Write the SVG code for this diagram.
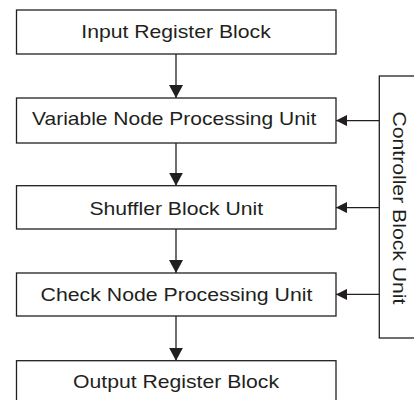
<svg xmlns="http://www.w3.org/2000/svg" width="414" height="400" viewBox="0 0 414 400">
  <style>
    .box { fill: #ffffff; stroke: #231f20; stroke-width: 1.3; }
    .wire { fill: none; stroke: #231f20; stroke-width: 1.3; }
    .lbl { font-family: "Liberation Sans", Arial, sans-serif; font-size: 19px; fill: #231f20; text-anchor: middle; }
  </style>
  <defs>
    <marker id="headDown" markerUnits="userSpaceOnUse" viewBox="0 0 14 13" refX="7" refY="13" markerWidth="14" markerHeight="13" orient="0">
      <path d="M0,0 L14,0 L7,13 Z" fill="#231f20"/>
    </marker>
    <marker id="headLeft" markerUnits="userSpaceOnUse" viewBox="0 0 11 11" refX="0" refY="5.5" markerWidth="11" markerHeight="11" orient="0">
      <path d="M0,5.5 L11,0 L11,11 Z" fill="#231f20"/>
    </marker>
  </defs>
  <rect width="414" height="400" fill="#ffffff"/>

  <g id="connectors">
    <line class="wire" x1="176" y1="54" x2="176" y2="98" marker-end="url(#headDown)"/>
    <line class="wire" x1="176" y1="143" x2="176" y2="185.7" marker-end="url(#headDown)"/>
    <line class="wire" x1="176" y1="229" x2="176" y2="273" marker-end="url(#headDown)"/>
    <line class="wire" x1="176" y1="316" x2="176" y2="360.7" marker-end="url(#headDown)"/>
    <line class="wire" x1="379.3" y1="120.6" x2="336" y2="120.6" marker-end="url(#headLeft)"/>
    <line class="wire" x1="379.3" y1="207.6" x2="336" y2="207.6" marker-end="url(#headLeft)"/>
    <line class="wire" x1="379.3" y1="294.4" x2="336" y2="294.4" marker-end="url(#headLeft)"/>
  </g>

  <!-- labels use a slightly widened sans face: scale(1.115, 1) -->
  <g id="input-register">
    <rect class="box" x="16.5" y="10" width="319.5" height="44"/>
    <text class="lbl" transform="translate(176,37.5) scale(1.115,1)">Input Register Block</text>
  </g>

  <g id="variable-node">
    <rect class="box" x="16.5" y="98" width="319.5" height="45"/>
    <text class="lbl" transform="translate(174.2,125) scale(1.105,1)">Variable Node Processing Unit</text>
  </g>

  <g id="shuffler">
    <rect class="box" x="16.5" y="185.7" width="319.5" height="43.3"/>
    <text class="lbl" transform="translate(176.3,214.8) scale(1.115,1)">Shuffler Block Unit</text>
  </g>

  <g id="check-node">
    <rect class="box" x="16.5" y="273" width="319.5" height="43"/>
    <text class="lbl" transform="translate(176.5,300.5) scale(1.12,1)">Check Node Processing Unit</text>
  </g>

  <g id="output-register">
    <rect class="box" x="16.5" y="360.7" width="319.5" height="44"/>
    <text class="lbl" transform="translate(176,388.1) scale(1.115,1)">Output Register Block</text>
  </g>

  <g id="controller">
    <rect class="box" x="379.3" y="76" width="50" height="262"/>
    <text class="lbl" transform="translate(393.3,207.9) rotate(90) scale(1.115,1)">Controller Block Unit</text>
  </g>
</svg>
